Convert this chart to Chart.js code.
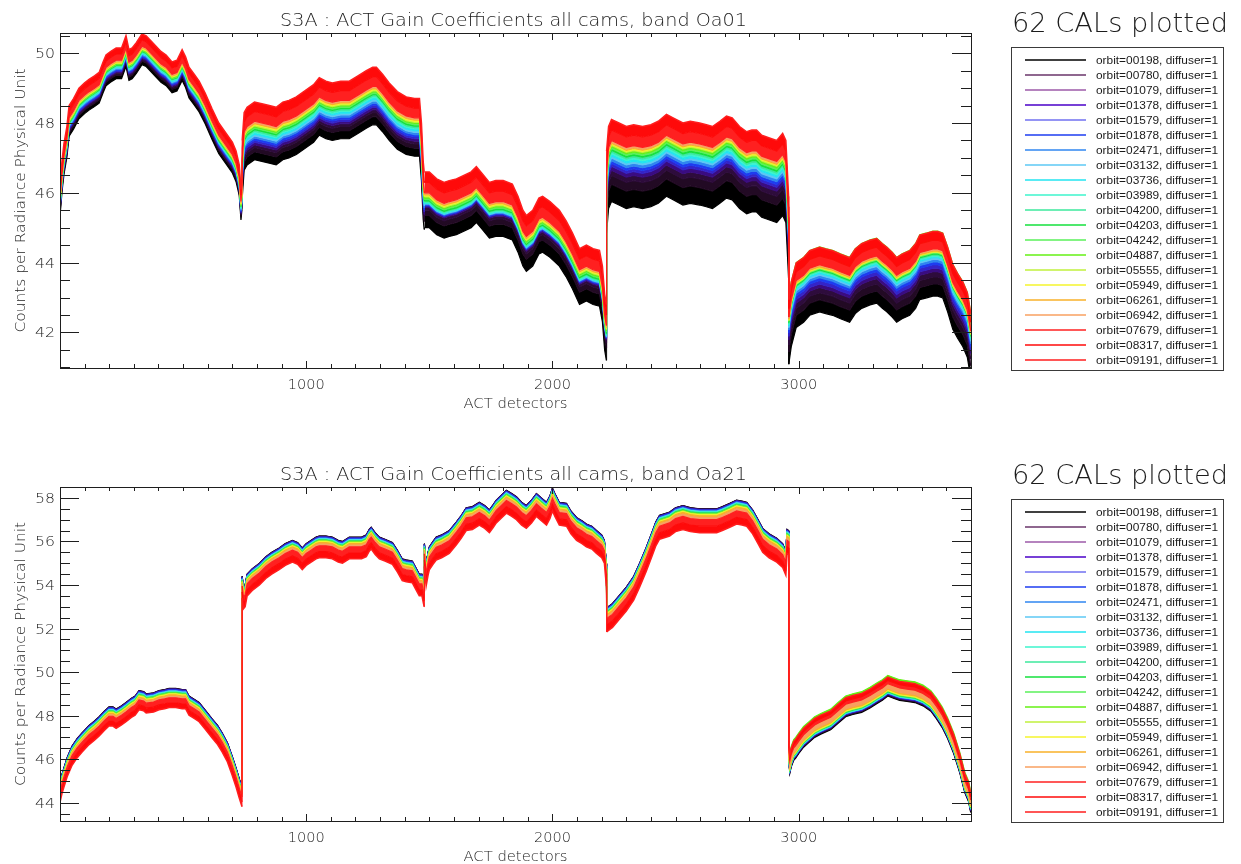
<!DOCTYPE html>
<html>
<head>
<meta charset="utf-8">
<title>S3A ACT Gain Coefficients</title>
<script src="https://cdn.jsdelivr.net/npm/chart.js@4.4.1/dist/chart.umd.min.js"></script>
<style>
  html, body { margin: 0; padding: 0; background: #fff; }
  #page { position: relative; width: 1241px; height: 864px; overflow: hidden; }
  #page canvas { position: absolute; }
</style>
</head>
<body>
<div id="page">
  <canvas id="oa01" width="1000" height="432" style="left:0;top:0"></canvas>
  <canvas id="oa21" width="1000" height="432" style="left:0;top:432px"></canvas>
  <canvas id="side" width="241" height="864" style="left:1000px;top:0"></canvas>
</div>
<script>
// camera blocks: 5 cameras x 740 detectors
const cameraSize = 740;
const detectorCount = 3700;

const orbits = ['00198', '00780', '01079', '01378', '01579', '01878', '02471', '03132', '03736', '03989',
  '04200', '04203', '04242', '04887', '05555', '05949', '06261', '06942', '07679', '08317', '09191'];
const orbitColors = ['#000000', '#6a356a', '#9c5aa8', '#4a00c8', '#7070f0', '#1e3cf0', '#2f86f0', '#5cc8f4',
  '#22e4f0', '#3cf4cc', '#3ce89c', '#14e03c', '#5af05a', '#64f014', '#c0f03c', '#f4f42c', '#f8b028',
  '#f8a060', '#ff2020', '#ff0a0a', '#ff1e1e'];
// the dense early-orbit part of the band reads much darker than the legend swatches
const bandColors = ['#000000', '#220a24', '#2e0c3c', '#3a0c80', '#3424c8', '#1e3cf0', '#2f86f0', '#5cc8f4',
  '#22e4f0', '#3cf4cc', '#3ce89c', '#14e03c', '#5af05a', '#64f014', '#c0f03c', '#f4f42c', '#f8b028',
  '#f8a060', '#ff2020', '#ff0a0a', '#ff1e1e'];
const calsPlotted = 62;

const xTickLabels = [1000, 2000, 3000];
const oa01YTicks = [42, 44, 46, 48, 50];
const oa21YTicks = [44, 46, 48, 50, 52, 54, 56, 58];
const oa01Range = [40.98, 50.58];
const oa21Range = [43.16, 58.5];

// band Oa01: upper edge of the gain band along the detectors
const oa01Detectors = [
  0, 8, 16, 28, 37, 55, 77, 100, 118, 140, 159, 175, 187, 205, 228, 250, 268, 280, 293, 310, 333, 350, 370, 390,
  410, 431, 455, 475, 496, 510, 524, 545, 565, 590, 618, 645, 675, 700, 715, 728, 735, 739,
  740, 748, 760, 790, 820, 850, 878, 905, 930, 960, 1000, 1030, 1053, 1080, 1106, 1140, 1175, 1210, 1244, 1270,
  1285, 1310, 1337, 1370, 1406, 1440, 1460, 1468, 1475, 1479,
  1480, 1500, 1530, 1560, 1581, 1610, 1640, 1670, 1691, 1715, 1744, 1770, 1800, 1837, 1860, 1880, 1894, 1920,
  1945, 1960, 1990, 2028, 2055, 2081, 2110, 2138, 2165, 2191, 2203, 2212, 2219,
  2220, 2228, 2240, 2270, 2300, 2330, 2366, 2400, 2430, 2463, 2490, 2530, 2560, 2598, 2625, 2650, 2680, 2707,
  2730, 2760, 2789, 2810, 2829, 2850, 2870, 2890, 2911, 2935, 2948, 2955, 2959,
  2960, 2970, 2990, 3020, 3045, 3085, 3110, 3138, 3170, 3207, 3230, 3256, 3290, 3317, 3340, 3358, 3380, 3398,
  3420, 3451, 3475, 3492, 3520, 3545, 3565, 3585, 3605, 3626, 3645, 3667, 3685, 3699
];
const oa01Top = [
  46.2, 46.9, 47.4, 47.9, 48.5, 48.7, 49.0, 49.15, 49.25, 49.35, 49.45, 49.75, 49.95, 50.05, 50.15, 50.15, 50.5,
  50.1, 50.15, 50.3, 50.55, 50.5, 50.35, 50.2, 50.05, 49.95, 49.75, 49.8, 50.1, 49.9, 49.6, 49.4, 49.2, 48.85,
  48.4, 48.0, 47.7, 47.45, 47.2, 46.8, 46.1, 46.4,
  47.5, 48.3, 48.45, 48.6, 48.55, 48.5, 48.45, 48.6, 48.65, 48.75, 48.95, 49.1, 49.3, 49.2, 49.15, 49.2, 49.2,
  49.35, 49.5, 49.6, 49.6, 49.4, 49.15, 48.9, 48.75, 48.7, 48.7, 48.0, 46.9, 46.6,
  46.6, 46.6, 46.4, 46.3, 46.35, 46.4, 46.5, 46.6, 46.75, 46.55, 46.3, 46.35, 46.35, 46.25, 45.9, 45.5, 45.35,
  45.5, 45.85, 45.9, 45.75, 45.5, 45.2, 44.85, 44.4, 44.5, 44.4, 44.35, 43.9, 43.1, 42.8,
  47.2, 47.9, 48.1, 48.0, 47.9, 47.95, 47.9, 47.95, 48.05, 48.25, 48.15, 48.0, 48.05, 48.0, 47.95, 47.9, 48.05,
  48.2, 48.15, 47.9, 47.75, 47.8, 47.8, 47.65, 47.6, 47.55, 47.5, 47.7, 47.5, 46.5, 45.9,
  43.0, 43.5, 44.05, 44.2, 44.4, 44.5, 44.45, 44.4, 44.3, 44.2, 44.45, 44.6, 44.7, 44.75, 44.6, 44.5, 44.35,
  44.2, 44.3, 44.4, 44.6, 44.85, 44.9, 44.95, 44.95, 44.9, 44.5, 44.0, 43.75, 43.5, 43.2, 42.6
];
// depth of each orbit below that edge, one value per camera
const oa01Depth = [
  [-0.88, -1.65, -1.60, -2.35, -1.91],
  [-0.78, -1.42, -1.25, -1.85, -1.56],
  [-0.74, -1.30, -1.10, -1.60, -1.36],
  [-0.70, -1.22, -1.02, -1.45, -1.21],
  [-0.67, -1.15, -0.98, -1.34, -1.11],
  [-0.64, -1.09, -0.96, -1.26, -1.01],
  [-0.61, -1.03, -0.94, -1.18, -0.93],
  [-0.58, -0.97, -0.92, -1.10, -0.86],
  [-0.56, -0.92, -0.90, -1.04, -0.81],
  [-0.54, -0.87, -0.88, -0.98, -0.77],
  [-0.52, -0.83, -0.86, -0.93, -0.74],
  [-0.50, -0.79, -0.83, -0.88, -0.71],
  [-0.48, -0.75, -0.79, -0.83, -0.68],
  [-0.46, -0.71, -0.75, -0.78, -0.05],
  [-0.44, -0.68, -0.72, -0.74, -0.66],
  [-0.42, -0.65, -0.69, -0.71, -0.64],
  [-0.40, -0.62, -0.66, -0.68, -0.62],
  [-0.38, -0.59, -0.63, -0.65, -0.59],
  [-0.35, -0.55, -0.60, -0.60, -0.56],
  [-0.17, -0.27, -0.30, -0.30, -0.31],
  [0.00, 0.00, 0.00, 0.00, -0.06]
];

// band Oa21
const oa21Detectors = [
  0, 8, 16, 30, 49, 70, 89, 118, 140, 159, 180, 199, 215, 228, 250, 268, 290, 305, 321, 340, 350, 380, 402, 425,
  443, 470, 496, 510, 524, 545, 565, 590, 618, 640, 659, 680, 699, 715, 728, 739,
  740, 745, 752, 760, 781, 810, 836, 860, 890, 915, 944, 965, 984, 1000, 1020, 1040, 1053, 1080, 1106, 1130,
  1147, 1175, 1200, 1225, 1244, 1256, 1264, 1280, 1297, 1320, 1350, 1370, 1390, 1406, 1431, 1445, 1459, 1470, 1479,
  1480, 1487, 1495, 1500, 1515, 1528, 1550, 1581, 1610, 1630, 1650, 1675, 1703, 1725, 1744, 1760, 1772, 1795,
  1813, 1835, 1854, 1875, 1894, 1915, 1935, 1955, 1976, 1990, 2000, 2010, 2028, 2057, 2075, 2098, 2120, 2138,
  2160, 2179, 2200, 2211, 2219,
  2220, 2232, 2244, 2270, 2300, 2330, 2354, 2380, 2407, 2420, 2435, 2476, 2500, 2530, 2560, 2598, 2630, 2667,
  2690, 2720, 2748, 2770, 2789, 2813, 2835, 2854, 2880, 2911, 2935, 2948, 2953, 2959,
  2960, 2964, 2970, 2980, 2988, 3000, 3020, 3040, 3065, 3090, 3130, 3160, 3191, 3220, 3256, 3290, 3317, 3340,
  3362, 3385, 3410, 3440, 3472, 3505, 3537, 3560, 3583, 3605, 3630, 3655, 3675, 3690, 3699
];
const oa21Top = [
  44.9, 45.3, 45.6, 46.1, 46.6, 46.95, 47.2, 47.55, 47.75, 47.95, 48.2, 48.4, 48.4, 48.3, 48.45, 48.6, 48.8, 48.9,
  49.15, 49.1, 49.0, 49.05, 49.15, 49.2, 49.25, 49.25, 49.2, 49.2, 48.9, 48.75, 48.6, 48.25, 47.85, 47.55, 47.2,
  46.75, 46.15, 45.6, 45.1, 44.7,
  54.4, 53.9, 54.0, 54.5, 54.75, 55.0, 55.3, 55.5, 55.7, 55.9, 56.05, 55.95, 55.7, 55.9, 56.05, 56.2, 56.25, 56.25,
  56.2, 56.05, 56.0, 56.2, 56.2, 56.2, 56.3, 56.55, 56.65, 56.4, 56.2, 56.1, 55.95, 55.6, 55.2, 55.15, 55.1, 54.8,
  54.5, 54.5, 54.0,
  55.9, 55.0, 55.5, 55.75, 56.0, 56.2, 56.3, 56.5, 56.9, 57.2, 57.55, 57.6, 57.8, 57.65, 57.45, 57.7, 57.9, 58.15,
  58.35, 58.2, 58.05, 57.8, 57.65, 57.9, 58.2, 58.0, 57.8, 58.1, 58.45, 58.2, 57.8, 57.75, 57.4, 57.1, 56.95, 56.8,
  56.7, 56.5, 56.3, 56.05, 55.0,
  52.95, 53.05, 53.15, 53.5, 53.9, 54.4, 55.0, 55.7, 56.5, 56.9, 57.2, 57.35, 57.55, 57.65, 57.55, 57.5, 57.5,
  57.5, 57.6, 57.75, 57.9, 57.85, 57.8, 57.45, 57.0, 56.6, 56.35, 56.15, 55.9, 55.55, 56.55, 56.5,
  46.9, 46.3, 46.6, 46.9, 47.0, 47.2, 47.5, 47.7, 47.95, 48.1, 48.3, 48.6, 48.9, 49.0, 49.1, 49.3, 49.5, 49.65,
  49.85, 49.75, 49.65, 49.6, 49.55, 49.4, 49.15, 48.8, 48.4, 47.9, 47.2, 46.3, 45.4, 45.0, 44.5
];
const oa21Depth = [
  [0.00, 0.00, 0.00, 0.00, -0.95],
  [-0.01, -0.01, -0.01, -0.01, -0.91],
  [-0.02, -0.02, -0.02, -0.02, -0.89],
  [-0.03, -0.03, -0.03, -0.03, -0.87],
  [-0.04, -0.04, -0.04, -0.04, -0.85],
  [-0.07, -0.07, -0.07, -0.07, -0.83],
  [-0.10, -0.10, -0.10, -0.10, -0.81],
  [-0.12, -0.12, -0.12, -0.12, -0.80],
  [-0.14, -0.14, -0.14, -0.14, -0.79],
  [-0.15, -0.15, -0.15, -0.15, -0.78],
  [-0.17, -0.17, -0.17, -0.17, -0.76],
  [-0.19, -0.19, -0.19, -0.20, -0.74],
  [-0.20, -0.20, -0.21, -0.22, -0.72],
  [-0.22, -0.22, -0.23, -0.24, 0.00],
  [-0.24, -0.24, -0.25, -0.26, -0.70],
  [-0.26, -0.26, -0.27, -0.28, -0.68],
  [-0.30, -0.30, -0.31, -0.32, -0.64],
  [-0.36, -0.37, -0.38, -0.40, -0.58],
  [-0.43, -0.45, -0.47, -0.50, -0.38],
  [-0.66, -0.72, -0.76, -0.80, -0.23],
  [-0.88, -1.00, -1.05, -1.10, -0.08]
];

const textColor = '#1c1c1c';
const lightFont = (px, family) => `200 ${px}px ${family || '"DejaVu Sans"'}`;

const cameraOf = d => Math.min(4, Math.floor(d / cameraSize));

// draw text squeezed/stretched to a given width
function fitText(ctx, text, x, y, width, align) {
  const w = ctx.measureText(text).width;
  ctx.save();
  ctx.translate(x, y);
  ctx.scale(width / w, 1);
  ctx.textAlign = align;
  ctx.fillText(text, 0, 0);
  ctx.restore();
}

function line(ctx, x0, y0, x1, y1) {
  ctx.beginPath();
  ctx.moveTo(x0, y0);
  ctx.lineTo(x1, y1);
  ctx.stroke();
}

// IDL style frame: box with inward ticks on all four sides
const idlAxes = {
  id: 'idlAxes',
  afterDraw(chart, args, opts) {
    const { ctx, chartArea: a, scales: { x, y } } = chart;
    ctx.save();
    ctx.strokeStyle = '#1e1e1e';
    ctx.lineWidth = 1;
    ctx.strokeRect(Math.round(a.left) + 0.5, Math.round(a.top) + 0.5,
      Math.round(a.right - a.left), Math.round(a.bottom - a.top));

    for (let t = 0; t <= detectorCount / 100; t++) {
      const px = Math.round(x.getPixelForValue(t * 100)) + 0.5;
      const len = t % 10 === 0 ? 7 : 4;
      line(ctx, px, a.bottom, px, a.bottom - len);
      line(ctx, px, a.top, px, a.top + len);
    }
    for (let t = Math.ceil(y.min * 2); t <= Math.floor(y.max * 2); t++) {
      const py = Math.round(y.getPixelForValue(t / 2)) + 0.5;
      const len = t % 4 === 0 ? 19 : 10;
      line(ctx, a.left, py, a.left + len, py);
      line(ctx, a.right, py, a.right - len, py);
    }

    ctx.fillStyle = textColor;
    ctx.textBaseline = 'alphabetic';
    ctx.font = lightFont(14);
    xTickLabels.forEach(v => {
      fitText(ctx, String(v), x.getPixelForValue(v), a.bottom + 21, 37, 'center');
    });
    opts.yTicks.forEach(v => {
      fitText(ctx, String(v), a.left - 5, y.getPixelForValue(v) + 5, 20, 'right');
    });

    ctx.font = lightFont(14.5);
    fitText(ctx, 'ACT detectors', (a.left + a.right) / 2, a.bottom + 39.5, 104, 'center');
    ctx.save();
    ctx.translate(25, (a.top + a.bottom) / 2);
    ctx.rotate(-Math.PI / 2);
    fitText(ctx, 'Counts per Radiance Physical Unit', 0, 0, 264, 'center');
    ctx.restore();

    ctx.font = lightFont(18);
    fitText(ctx, opts.title, 513.5, a.top - 7, 467, 'center');
    ctx.restore();
  }
};

function buildDatasets(detectors, top, depth) {
  return orbits.map((orbit, k) => ({
    label: 'orbit=' + orbit + ', diffuser=1',
    data: detectors.map((d, i) => ({ x: d, y: top[i] + depth[k][cameraOf(d)] })),
    borderColor: bandColors[k],
    backgroundColor: bandColors[k],
    borderWidth: k === orbits.length - 1 ? 1.5 : 1.2,
    fill: k < orbits.length - 1 ? '+1' : false,
    order: orbits.length - 1 - k,
    pointRadius: 0,
    tension: 0,
    segment: {
      // thin connector where one camera ends and the next begins
      borderWidth: c => cameraOf(c.p0.parsed.x) !== cameraOf(c.p1.parsed.x) ? 1 : undefined
    }
  }));
}

function makeChart(id, detectors, top, depth, range, yTicks, title, padTop, padBottom) {
  return new Chart(document.getElementById(id), {
    type: 'line',
    data: { datasets: buildDatasets(detectors, top, depth) },
    options: {
      responsive: false,
      animation: false,
      devicePixelRatio: 1,
      events: [],
      layout: { padding: { left: 60, right: 29, top: padTop, bottom: padBottom } },
      scales: {
        x: { type: 'linear', display: false, min: 0, max: detectorCount },
        y: { type: 'linear', display: false, min: range[0], max: range[1] }
      },
      plugins: {
        legend: { display: false },
        tooltip: { enabled: false },
        idlAxes: { title, yTicks }
      }
    },
    plugins: [idlAxes]
  });
}

makeChart('oa01', oa01Detectors, oa01Top, oa01Depth, oa01Range, oa01YTicks,
  'S3A : ACT Gain Coefficients all cams, band Oa01', 33, 64);
makeChart('oa21', oa21Detectors, oa21Top, oa21Depth, oa21Range, oa21YTicks,
  'S3A : ACT Gain Coefficients all cams, band Oa21', 55, 43);

// right hand column: count of calibrations and the orbit legend, once per panel
(function drawSide() {
  const ctx = document.getElementById('side').getContext('2d');
  [0, 452].forEach(dy => {
    ctx.fillStyle = textColor;
    ctx.font = lightFont(26);
    fitText(ctx, calsPlotted + ' CALs plotted', 12, 31.5 + dy, 216, 'left');

    ctx.strokeStyle = '#3a3a3a';
    ctx.lineWidth = 1;
    ctx.strokeRect(11.5, 47.5 + dy, 212, 323);

    ctx.font = '10px "Liberation Sans"';
    orbits.forEach((orbit, k) => {
      const yc = 60 + dy + k * 15;
      ctx.strokeStyle = orbitColors[k];
      ctx.lineWidth = 1.6;
      line(ctx, 25, yc, 86, yc);
      ctx.fillStyle = '#1a1a1a';
      fitText(ctx, 'orbit=' + orbit + ', diffuser=1', 96, yc + 3.5, 122, 'left');
    });
  });
})();
</script>
</body>
</html>
